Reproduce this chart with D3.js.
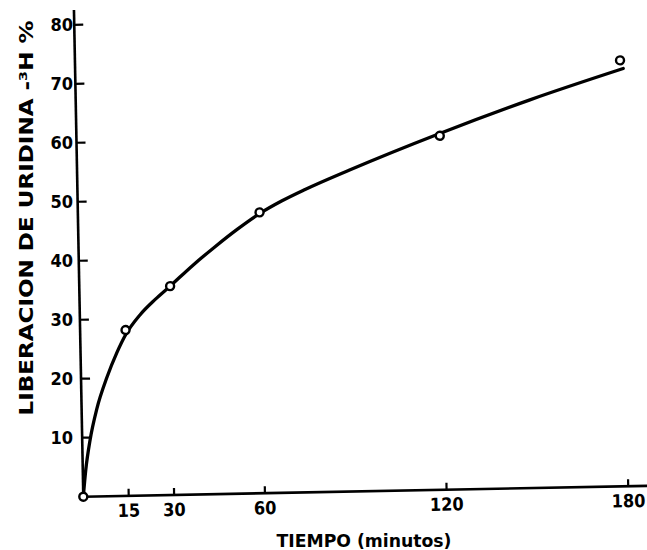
<!DOCTYPE html>
<html>
<head>
<meta charset="utf-8">
<script src="https://cdn.jsdelivr.net/npm/d3@7"></script>
<style>
  body { margin: 0; background: #fff; }
  svg { display: block; }
  text { font-family: "DejaVu Sans Condensed", "DejaVu Sans", sans-serif; font-weight: bold; fill: #000; }
</style>
</head>
<body>
<div id="chart"></div>
<script>
// values
const xTickValues = [15, 30, 60, 120, 180];
const yTickValues = [10, 20, 30, 40, 50, 60, 70, 80];

// measured points (open circles)
const obsTime = [0, 15, 30, 60, 120, 180];
const obsRelease = [0, 28.1, 35.4, 47.6, 60.0, 72.2];

// hand drawn fitted curve
const fitTime = [0, 1, 2.6, 5, 8.6, 12, 15, 20, 25, 30, 37.5, 45, 52.5, 60, 67.5, 75, 90, 120, 150, 181];
const fitRelease = [0, 4.6, 9.6, 14.8, 20.2, 24.3, 27.3, 30.7, 33.2, 35.4, 38.8, 41.9, 44.8, 47.4, 49.5, 51.3, 54.5, 60.4, 65.8, 70.8];

const width = 647, height = 550;
const origin_x = 83.3, origin_y = 496.7;
const tilt = -1.1; // the scan is slightly rotated

const svg = d3.select("#chart")
    .append("svg")
    .attr("width", width)
    .attr("height", height);

let x = d3.scaleLinear().domain([0, 180]).range([0, 545]);
let y = d3.scaleLinear().domain([0, 80]).range([0, -472]);

// plot group, tilted like the scan
let plot = svg.append("g")
    .attr("transform", "translate(" + origin_x + "," + origin_y + ") rotate(" + tilt + ")");

// y axis line and inside ticks
plot.append("line")
    .attr("x1", 0).attr("y1", 0)
    .attr("x2", 0).attr("y2", y(82.5))
    .attr("stroke", "#000").attr("stroke-width", 2.6);

plot.selectAll(".ytick")
    .data(yTickValues)
    .enter().append("line")
    .attr("class", "ytick")
    .attr("x1", 0).attr("x2", 9)
    .attr("y1", d => y(d)).attr("y2", d => y(d))
    .attr("stroke", "#000").attr("stroke-width", 2.2);

// x axis line runs to the page edge
plot.append("line")
    .attr("x1", 0).attr("y1", 0)
    .attr("x2", x(187)).attr("y2", 0)
    .attr("stroke", "#000").attr("stroke-width", 2.6);

plot.selectAll(".xtick")
    .data(xTickValues)
    .enter().append("line")
    .attr("class", "xtick")
    .attr("x1", d => x(d)).attr("x2", d => x(d))
    .attr("y1", 0).attr("y2", -7)
    .attr("stroke", "#000").attr("stroke-width", 2.2);

plot.selectAll(".xlabel")
    .data(xTickValues)
    .enter().append("text")
    .attr("class", "xlabel")
    .attr("x", d => x(d))
    .attr("y", 21)
    .attr("text-anchor", "middle")
    .style("font-size", "18px")
    .text(d => d);

// fitted curve
let fit = fitTime.map((t, i) => [t, fitRelease[i]]);
let line = d3.line()
    .x(d => x(d[0]))
    .y(d => y(d[1]))
    .curve(d3.curveMonotoneX);

plot.append("path")
    .datum(fit)
    .attr("d", line)
    .attr("fill", "none")
    .attr("stroke", "#000")
    .attr("stroke-width", 3.3)
    .attr("stroke-linecap", "round");

// observed points
let obs = obsTime.map((t, i) => [t, obsRelease[i]]);
plot.selectAll(".obs")
    .data(obs)
    .enter().append("circle")
    .attr("class", "obs")
    .attr("cx", d => x(d[0]))
    .attr("cy", d => y(d[1]))
    .attr("r", 4)
    .attr("fill", "#fff")
    .attr("stroke", "#000")
    .attr("stroke-width", 2.4);

// y tick labels stay upright and in a column
let ylab = svg.append("g")
    .attr("transform", "translate(73," + origin_y + ")");

ylab.selectAll(".ylabel")
    .data(yTickValues)
    .enter().append("text")
    .attr("class", "ylabel")
    .attr("x", 0)
    .attr("y", d => y(d))
    .attr("dy", "0.36em")
    .attr("text-anchor", "end")
    .style("font-size", "18px")
    .text(d => d);

// axis titles
svg.append("text")
    .attr("x", 364)
    .attr("y", 547)
    .attr("text-anchor", "middle")
    .attr("textLength", 175)
    .attr("lengthAdjust", "spacingAndGlyphs")
    .style("font-size", "18px")
    .text("TIEMPO (minutos)");

svg.append("text")
    .attr("transform", "translate(33,218) rotate(-90)")
    .attr("text-anchor", "middle")
    .attr("textLength", 395)
    .attr("lengthAdjust", "spacingAndGlyphs")
    .style("font-size", "19px")
    .text("LIBERACION DE URIDINA -³H %");
</script>
</body>
</html>
